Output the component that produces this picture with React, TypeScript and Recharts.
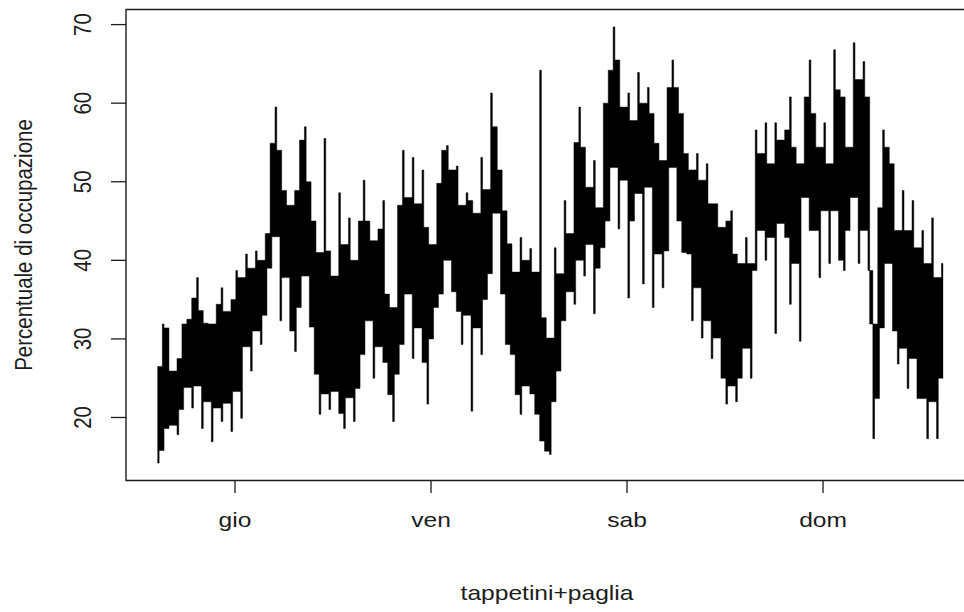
import { ComposedChart, Area, XAxis, YAxis, ReferenceArea } from 'recharts';

// occupancy every 0.6 h, hours counted from Thursday 00:00
// each pair is the local high then the local low of that slice
const START_HOUR = -9.5;
const STEP_HOURS = 0.6;

const mer = [
  26.5, 14.2, 31.9, 15.8, 31.4, 18.6, 25.9, 19.0, 27.5, 17.8, 31.9, 21.0, 32.5, 23.8, 35.2, 21.2,
  37.8, 24.0, 33.6, 18.6, 32.0, 22.0, 31.9, 16.9, 34.4, 21.2, 36.5, 19.5, 33.5, 21.8, 35.0, 18.2,
];

const gio = [
  38.7, 23.3, 37.8, 19.9, 40.8, 29.0, 39.0, 25.9, 41.2, 31.0, 40.0, 29.3, 43.4, 33.0, 54.9, 39.0,
  59.5, 43.0, 54.0, 32.3, 48.9, 37.8, 47.0, 31.0, 48.9, 28.4, 55.3, 34.0, 57.0, 38.0, 50.0, 31.5,
  45.0, 25.5, 41.0, 20.4, 55.5, 23.0, 41.2, 21.0, 38.0, 23.3, 48.6, 20.5, 42.0, 18.6, 45.4, 22.5,
  40.0, 19.5, 45.0, 23.7, 50.2, 28.0, 45.0, 32.3, 42.5, 25.0, 44.0, 29.0, 47.6, 27.0, 35.7, 22.9,
  34.0, 19.5, 47.0, 25.5, 54.0, 29.3, 48.0, 35.7, 53.1, 27.5, 47.2, 31.4, 51.5, 27.0, 44.2, 21.7,
];

const ven = [
  42.0, 30.0, 49.8, 34.0, 54.0, 35.7, 54.6, 40.0, 51.5, 36.0, 52.0, 33.5, 47.0, 29.3, 48.6, 33.0,
  47.6, 20.8, 46.0, 31.4, 53.1, 28.0, 49.0, 35.0, 61.3, 38.3, 57.0, 46.0, 51.5, 35.7, 46.3, 29.3,
  42.1, 28.0, 38.5, 22.9, 42.9, 20.4, 40.0, 24.0, 41.5, 23.0, 38.5, 20.4, 64.2, 17.0, 32.7, 15.7,
  30.1, 15.3, 41.6, 22.0, 38.3, 25.9, 47.6, 32.3, 43.4, 36.0, 55.0, 34.4, 59.5, 40.0, 54.4, 38.0,
  49.3, 42.0, 52.7, 33.2, 46.7, 39.0, 60.0, 41.6, 64.2, 45.0, 69.7, 51.8, 65.5, 44.0, 59.5, 50.2,
];

const sab = [
  61.3, 35.2, 57.8, 45.0, 63.9, 48.5, 60.0, 37.0, 62.0, 49.3, 58.7, 34.0, 54.9, 40.8, 52.7, 36.5,
  62.0, 41.2, 65.5, 51.8, 62.0, 45.0, 58.7, 41.0, 53.6, 40.8, 51.5, 32.3, 53.6, 36.5, 50.2, 30.1,
  52.3, 32.3, 47.2, 27.5, 47.2, 30.1, 44.2, 25.0, 45.0, 21.7, 46.3, 24.0, 40.8, 22.0, 39.6, 25.0,
  42.9, 28.8, 39.6, 25.0, 56.6, 38.7, 53.6, 43.8, 57.5, 40.0, 52.3, 42.9, 57.5, 30.7, 55.3, 44.7,
  56.6, 42.9, 60.8, 34.4, 54.4, 39.6, 52.3, 29.7, 60.8, 48.0, 65.5, 43.8, 58.7, 43.8, 54.4, 37.8,
];

const dom = [
  57.5, 46.3, 52.3, 39.6, 66.8, 46.3, 61.7, 40.0, 60.8, 38.7, 54.4, 43.8, 67.7, 48.0, 63.0, 39.6,
  65.3, 43.8, 60.8, 38.7, 31.9, 17.3, 46.7, 22.4, 56.6, 31.4, 54.4, 39.6, 52.3, 31.0, 43.8, 26.8,
  48.9, 28.8, 43.8, 23.7, 47.6, 27.5, 41.6, 22.4, 43.8, 22.4, 39.6, 17.3, 45.4, 22.0, 37.8, 17.3,
  39.6, 25.0,
];

const DAY_LABELS = ['gio', 'ven', 'sab', 'dom'];
const DAY_TICKS = [0, 24, 48, 72];
const Y_TICKS = [20, 30, 40, 50, 60, 70];

const occupancy = [...mer, ...gio, ...ven, ...sab, ...dom];
const slices: { t: number; hi: number; lo: number }[] = [];
for (let k = 0; k < occupancy.length / 2; k++) {
  slices.push({ t: START_HOUR + k * STEP_HOURS, hi: occupancy[2 * k], lo: occupancy[2 * k + 1] });
}

// a narrow column per slice (its full spread), then up to the next slice a
// column covering only what both share, so the peaks stand out like hairs
const HAIR = 0.35;
const rows: { t: number; band: number[] }[] = [];
slices.forEach((s, k) => {
  rows.push({ t: s.t, band: [s.lo, s.hi] });
  const n = slices[k + 1];
  if (n) {
    const a = Math.max(s.lo, n.lo);
    const b = Math.min(s.hi, n.hi);
    rows.push({ t: s.t + STEP_HOURS * HAIR, band: [Math.min(a, b), Math.max(a, b)] });
  } else {
    rows.push({ t: s.t + STEP_HOURS * HAIR, band: [s.lo, s.hi] });
  }
});

// R-style 4% padding on both axes
const tMin = rows[0].t;
const tMax = rows[rows.length - 1].t;
const xPad = (tMax - tMin) * 0.04;
const X_DOMAIN: [number, number] = [tMin - xPad, tMax + xPad];
const vMin = Math.min(...occupancy);
const vMax = Math.max(...occupancy);
const yPad = (vMax - vMin) * 0.04;
const Y_DOMAIN: [number, number] = [vMin - yPad, vMax + yPad];

const INK = '#1c1c1c';
const FONT = '"Liberation Sans", Arial, sans-serif';
const FONT_SIZE = 20.5;
const STRETCH = 1.2;

function XTick({ x, payload }: any) {
  const label = DAY_LABELS[DAY_TICKS.indexOf(payload.value)];
  return (
    <text
      transform={`translate(${x},527) scale(${STRETCH},1)`}
      textAnchor="middle"
      fill={INK}
      fontFamily={FONT}
      fontSize={FONT_SIZE}
    >
      {label}
    </text>
  );
}

function YTick({ y, payload }: any) {
  return (
    <text
      transform={`translate(90.5,${y}) scale(${STRETCH},1) rotate(-90)`}
      textAnchor="middle"
      fill={INK}
      fontFamily={FONT}
      fontSize={FONT_SIZE}
    >
      {payload.value}
    </text>
  );
}

export default function App() {
  return (
    <div
      style={{
        position: 'fixed',
        left: 0,
        top: 0,
        width: 964,
        height: 612,
        overflow: 'hidden',
        background: '#fff',
      }}
    >
      <ComposedChart
        width={980}
        height={612}
        data={rows}
        margin={{ top: 9.5, right: 5.4, bottom: 101.5, left: 86 }}
      >
        <XAxis
          type="number"
          dataKey="t"
          domain={X_DOMAIN}
          allowDataOverflow
          ticks={DAY_TICKS}
          interval={0}
          height={30}
          tickSize={12.5}
          axisLine={false}
          tickLine={{ stroke: INK, strokeWidth: 1.3 }}
          tick={XTick}
        />
        <YAxis
          type="number"
          domain={Y_DOMAIN}
          allowDataOverflow
          ticks={Y_TICKS}
          interval={0}
          width={40}
          tickSize={15}
          axisLine={false}
          tickLine={{ stroke: INK, strokeWidth: 1.3 }}
          tick={YTick}
        />
        <Area
          type="stepAfter"
          dataKey="band"
          fill="#000"
          fillOpacity={1}
          stroke="#000"
          strokeWidth={0.5}
          dot={false}
          activeDot={false}
          isAnimationActive={false}
        />
        <ReferenceArea
          x1={X_DOMAIN[0]}
          x2={X_DOMAIN[1]}
          y1={Y_DOMAIN[0]}
          y2={Y_DOMAIN[1]}
          fill="none"
          stroke={INK}
          strokeWidth={1.4}
          ifOverflow="visible"
        />
      </ComposedChart>
      <svg
        width={964}
        height={612}
        style={{ position: 'absolute', left: 0, top: 0, pointerEvents: 'none' }}
      >
        <text
          transform={`translate(547,600) scale(${STRETCH},1)`}
          textAnchor="middle"
          fill={INK}
          fontFamily={FONT}
          fontSize={FONT_SIZE}
        >
          tappetini+paglia
        </text>
        <text
          transform={`translate(32,245) scale(${STRETCH},1) rotate(-90)`}
          textAnchor="middle"
          fill={INK}
          fontFamily={FONT}
          fontSize={FONT_SIZE}
        >
          Percentuale di occupazione
        </text>
      </svg>
    </div>
  );
}
